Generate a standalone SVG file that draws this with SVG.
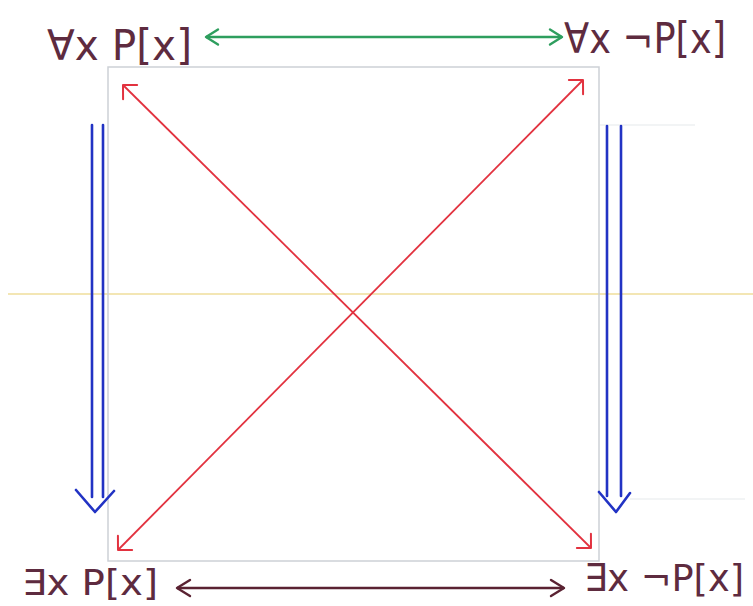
<svg xmlns="http://www.w3.org/2000/svg" width="753" height="606" viewBox="0 0 753 606">
  <style>
    .lbl { font-family: "DejaVu Sans", "Noto Sans", sans-serif; fill: #5e2b3f; font-weight: normal; }
    .red { stroke: #e2323f; stroke-width: 1.8; fill: none; }
    .green { stroke: #2e9e5e; stroke-width: 2.4; fill: none; }
    .maroon { stroke: #5a2232; stroke-width: 2.4; fill: none; }
    .blue { stroke: #2233c4; stroke-width: 2.6; fill: none; stroke-linecap: round; stroke-linejoin: round; }
    .paper { stroke-width: 2; fill: none; }
  </style>
  <defs>
    <marker id="mRed" markerUnits="userSpaceOnUse" viewBox="-14 -12 16 24" markerWidth="16" markerHeight="24" refX="0" refY="0" orient="auto-start-reverse">
      <path d="M-10,-10 L0,0 L-10,10" stroke="#e2323f" stroke-width="2" fill="none" stroke-linecap="round" stroke-linejoin="round"/>
    </marker>
    <marker id="mGreen" markerUnits="userSpaceOnUse" viewBox="-14 -10 16 20" markerWidth="16" markerHeight="20" refX="0" refY="0" orient="auto-start-reverse">
      <path d="M-12,-7.5 L0,0 L-12,7.5" stroke="#2e9e5e" stroke-width="2.4" fill="none" stroke-linecap="round" stroke-linejoin="round"/>
    </marker>
    <marker id="mMaroon" markerUnits="userSpaceOnUse" viewBox="-15 -10 17 20" markerWidth="17" markerHeight="20" refX="0" refY="0" orient="auto-start-reverse">
      <path d="M-13,-8 L0,0 L-13,8" stroke="#5a2232" stroke-width="2.4" fill="none" stroke-linecap="round" stroke-linejoin="round"/>
    </marker>
  </defs>
  <rect width="753" height="606" fill="#ffffff"/>
  <g id="paper">
    <line class="paper" x1="8" y1="294" x2="753" y2="294" stroke="#f3e6b4"/>
    <line x1="600" y1="125" x2="695" y2="125" stroke="#eef0f2" stroke-width="1.5"/>
    <line x1="630" y1="499" x2="745" y2="499" stroke="#eef0f2" stroke-width="1.5"/>
    <rect id="square" x="108" y="67" width="491" height="494" fill="none" stroke="#cdd1d6" stroke-width="1.5"/>
  </g>
  <g id="connectors">
    <line class="green" x1="206" y1="37" x2="562" y2="37" marker-start="url(#mGreen)" marker-end="url(#mGreen)"/>
    <line class="maroon" x1="177" y1="588" x2="564" y2="588" marker-start="url(#mMaroon)" marker-end="url(#mMaroon)"/>
    <line class="red" x1="123" y1="85" x2="591" y2="548" marker-start="url(#mRed)" marker-end="url(#mRed)"/>
    <line class="red" x1="118" y1="550" x2="583" y2="80" marker-start="url(#mRed)" marker-end="url(#mRed)"/>
    <g id="blue-left">
      <line class="blue" x1="92" y1="125" x2="92" y2="497"/>
      <line class="blue" x1="103" y1="125" x2="103" y2="497"/>
      <path class="blue" d="M76,490 L95,512 L114,491"/>
    </g>
    <g id="blue-right">
      <line class="blue" x1="607" y1="126" x2="607" y2="496"/>
      <line class="blue" x1="621" y1="126" x2="621" y2="496"/>
      <path class="blue" d="M599,492 L616,512 L630,493"/>
    </g>
  </g>
  <g id="node-forall-p">
    <text class="lbl" x="47" y="60" font-size="42" textLength="145" lengthAdjust="spacingAndGlyphs">∀x P[x]</text>
  </g>
  <g id="node-forall-notp">
    <text class="lbl" x="564" y="53" font-size="42" textLength="162" lengthAdjust="spacingAndGlyphs">∀x ¬P[x]</text>
  </g>
  <g id="node-exists-p">
    <text class="lbl" x="22" y="595" font-size="36" textLength="136" lengthAdjust="spacingAndGlyphs">∃x P[x]</text>
  </g>
  <g id="node-exists-notp">
    <text class="lbl" x="584" y="591" font-size="38" textLength="160" lengthAdjust="spacingAndGlyphs">∃x ¬P[x]</text>
  </g>
</svg>
